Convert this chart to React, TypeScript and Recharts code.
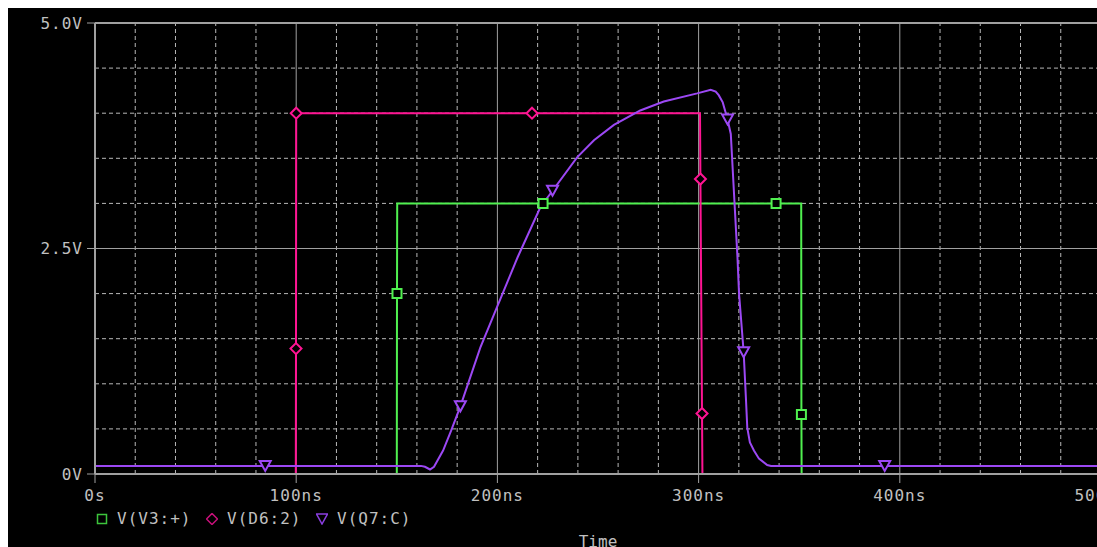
import React from "react";
import { LineChart, Line, XAxis, YAxis, ReferenceLine, Legend } from "recharts";

// time in ns, values in volts
const v3Time = [0, 150.0, 150.1, 150.2, 222.7, 338.5, 351.0, 351.1, 351.2, 500];
const v3Volt = [0, 0, 2.0, 3.0, 3.0, 3.0, 3.0, 0.66, 0, 0];
const v3Marks = [150.1, 222.7, 338.5, 351.1];

const d6Time = [0, 99.8, 99.9, 100.0, 217.2, 300.7, 300.9, 301.7, 301.9, 500];
const d6Volt = [0, 0, 1.39, 4.0, 4.0, 4.0, 3.27, 0.67, 0, 0];
const d6Marks = [99.9, 100.0, 217.2, 300.9, 301.7];

const q7Time = [
  0, 84.6, 162, 164, 166.5, 168.5, 173, 177, 181.6, 191.5, 199.8, 210, 221.4, 227.4, 239.6,
  248, 257.9, 271, 282.7, 299.3, 306, 308.5, 310, 312, 314.4, 316, 317.6, 319.3, 320.1,
  322.4, 323.5, 324.2, 325.5, 327.5, 330, 334.1, 336, 392.5, 500,
];
const q7Volt = [
  0.09, 0.09, 0.09, 0.08, 0.05, 0.08, 0.26, 0.48, 0.75, 1.4, 1.85, 2.4, 2.96, 3.14, 3.51,
  3.7, 3.87, 4.03, 4.13, 4.22, 4.26, 4.24, 4.2, 4.12, 3.93, 3.77, 3.11, 2.41, 2.0,
  1.35, 0.85, 0.51, 0.35, 0.26, 0.17, 0.1, 0.09, 0.09, 0.09,
];
const q7Marks = [84.6, 181.6, 227.4, 314.4, 322.4, 392.5];

const xTicks = [0, 100, 200, 300, 400, 500];
const xTickLabels = ["0s", "100ns", "200ns", "300ns", "400ns", "500ns"];
const yTicks = [0, 2.5, 5];
const yTickLabels = ["0V", "2.5V", "5.0V"];
const xMinor = [20, 40, 60, 80, 120, 140, 160, 180, 220, 240, 260, 280, 320, 340, 360, 380, 420, 440, 460, 480];
const yMinor = [0.5, 1, 1.5, 2, 3, 3.5, 4, 4.5];
const xMajor = [100, 200, 300, 400, 500];

const seriesNames = ["V(V3:+)", "V(D6:2)", "V(Q7:C)"];

const GREEN = "#50f050";
const PINK = "#ff1493";
const PURPLE = "#9c48f4";
const TEXT = "#c0c0c0";
const FONT = "'DejaVu Sans Mono', monospace";

const build = (t: number[], v: number[], marks: number[]) =>
  t.map((x, i) => ({ t: x, v: v[i], mark: marks.includes(x) }));

const v3Data = build(v3Time, v3Volt, v3Marks);
const d6Data = build(d6Time, d6Volt, d6Marks);
const q7Data = build(q7Time, q7Volt, q7Marks);

type Shape = "square" | "diamond" | "triangle";

const markerPath = (shape: Shape, cx: number, cy: number) => {
  if (shape === "square") return `M${cx - 4.5},${cy - 4.5}h9v9h-9z`;
  if (shape === "diamond") return `M${cx},${cy - 5.5}L${cx + 5.5},${cy}L${cx},${cy + 5.5}L${cx - 5.5},${cy}z`;
  return `M${cx - 5.5},${cy - 5}L${cx + 5.5},${cy - 5}L${cx},${cy + 5}z`;
};

const makeDot = (shape: Shape, color: string) => (props: any) => {
  const { cx, cy, payload, index } = props;
  if (!payload || !payload.mark) return <g key={`d-${shape}-${index}`} />;
  return (
    <path
      key={`d-${shape}-${index}`}
      d={markerPath(shape, cx, cy)}
      fill="#000"
      stroke={color}
      strokeWidth={2}
    />
  );
};

const legendItems: { shape: Shape; color: string }[] = [
  { shape: "square", color: "#3cc43c" },
  { shape: "diamond", color: "#c8107a" },
  { shape: "triangle", color: "#8a3ee0" },
];

const LegendContent = () => (
  <div style={{ display: "flex", alignItems: "center", fontFamily: FONT, fontSize: 16, letterSpacing: 1, color: TEXT }}>
    {legendItems.map((it, i) => (
      <div key={i} style={{ display: "flex", alignItems: "center", width: 110 }}>
        <svg width={12} height={12} style={{ marginRight: 9 }}>
          <path d={markerPath(it.shape, 6, 6)} fill="none" stroke={it.color} strokeWidth={1.5} />
        </svg>
        <span>{seriesNames[i]}</span>
      </div>
    ))}
  </div>
);

export default function App() {
  return (
    <div
      style={{
        position: "fixed",
        left: 8,
        top: 8,
        right: 0,
        bottom: 0,
        background: "#000",
        overflow: "hidden",
      }}
    >
      <LineChart
        width={1150}
        height={539}
        margin={{ top: 15, right: 57, left: 0, bottom: 24 }}
        style={{ fontFamily: FONT }}
      >
        <XAxis
          type="number"
          dataKey="t"
          domain={[0, 500]}
          ticks={xTicks}
          tickFormatter={(v: number) => xTickLabels[xTicks.indexOf(v)] ?? ""}
          height={30}
          tickSize={9}
          tickMargin={7}
          interval={0}
          stroke="#a0a0a0"
          tick={{ fill: TEXT, fontSize: 16, fontFamily: FONT, letterSpacing: 1 }}
          axisLine={{ stroke: "#a0a0a0", strokeWidth: 2 }}
          label={{ value: "Time", position: "bottom", offset: 32, fill: TEXT, fontSize: 16, fontFamily: FONT }}
        />
        <YAxis
          type="number"
          domain={[0, 5]}
          ticks={yTicks}
          tickFormatter={(v: number) => yTickLabels[yTicks.indexOf(v)] ?? ""}
          width={87}
          tickSize={8}
          tickMargin={4}
          interval={0}
          stroke="#a0a0a0"
          tick={{ fill: TEXT, fontSize: 16, fontFamily: FONT, letterSpacing: 1 }}
          axisLine={{ stroke: "#a0a0a0", strokeWidth: 2 }}
        />
        {xMinor.map((x) => (
          <ReferenceLine key={`xm${x}`} x={x} stroke="#b8b8b8" strokeDasharray="4 3" />
        ))}
        {yMinor.map((y) => (
          <ReferenceLine key={`ym${y}`} y={y} stroke="#b8b8b8" strokeDasharray="4 3" />
        ))}
        {xMajor.map((x) => (
          <ReferenceLine key={`xM${x}`} x={x} stroke="#a0a0a0" />
        ))}
        <ReferenceLine y={2.5} stroke="#a0a0a0" />
        <ReferenceLine y={5} stroke="#a0a0a0" strokeWidth={2} />
        <Legend
          content={<LegendContent />}
          wrapperStyle={{ left: 88, top: 501, bottom: "auto", width: "auto" }}
        />
        <Line
          data={v3Data}
          dataKey="v"
          type="linear"
          stroke={GREEN}
          strokeWidth={2}
          dot={makeDot("square", GREEN)}
          activeDot={false}
          isAnimationActive={false}
        />
        <Line
          data={d6Data}
          dataKey="v"
          type="linear"
          stroke={PINK}
          strokeWidth={2}
          dot={makeDot("diamond", PINK)}
          activeDot={false}
          isAnimationActive={false}
        />
        <Line
          data={q7Data}
          dataKey="v"
          type="linear"
          stroke={PURPLE}
          strokeWidth={2}
          dot={makeDot("triangle", PURPLE)}
          activeDot={false}
          isAnimationActive={false}
        />
      </LineChart>
    </div>
  );
}
